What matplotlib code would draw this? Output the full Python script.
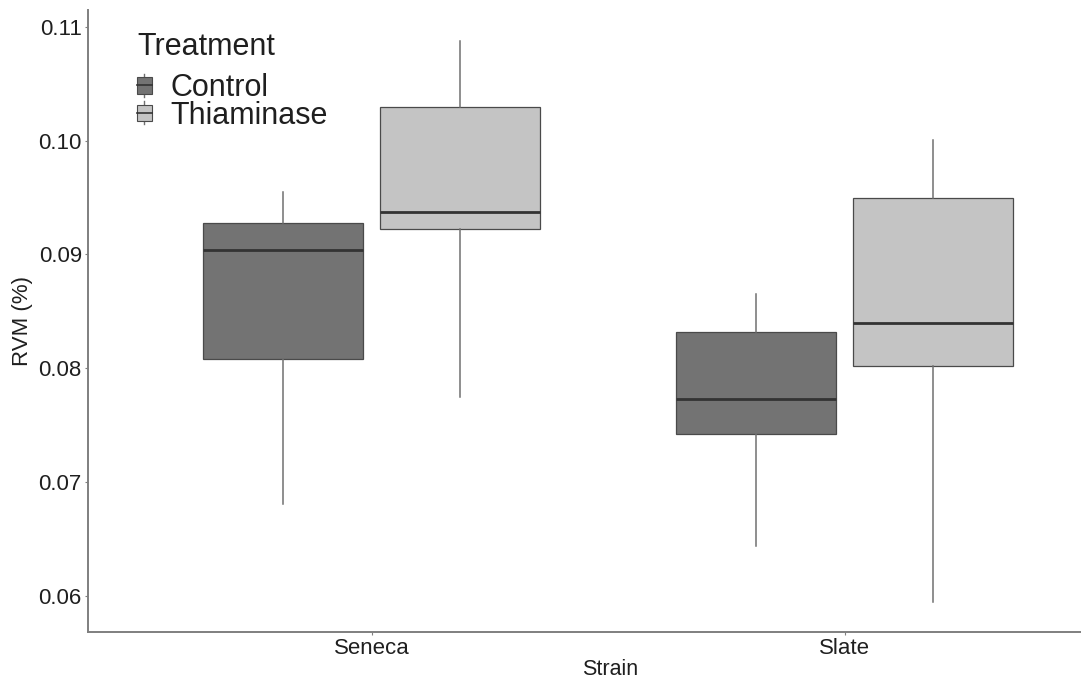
import matplotlib
matplotlib.use("Agg")
import matplotlib.pyplot as plt
from matplotlib.patches import Rectangle, Patch
from matplotlib.lines import Line2D
from matplotlib.legend_handler import HandlerBase

plt.rcParams["font.family"] = ["Liberation Sans", "DejaVu Sans"]

strains = ["Seneca", "Slate"]
treatments = ["Control", "Thiaminase"]

# five-number summaries, one value per strain
control_lo = [0.0681, 0.0644]
control_q1 = [0.0808, 0.0742]
control_med = [0.0904, 0.0773]
control_q3 = [0.0928, 0.0832]
control_hi = [0.0955, 0.0865]

thiam_lo = [0.0775, 0.0594]
thiam_q1 = [0.0922, 0.0802]
thiam_med = [0.0937, 0.0840]
thiam_q3 = [0.1030, 0.0950]
thiam_hi = [0.1088, 0.1001]

fills = {"Control": "#737373", "Thiaminase": "#c4c4c4"}
edge = "#4a4a4a"
whisk = "#707070"
axis_grey = "#7f7f7f"
text_col = "#1f1f1f"

summaries = {
    "Control": (control_lo, control_q1, control_med, control_q3, control_hi),
    "Thiaminase": (thiam_lo, thiam_q1, thiam_med, thiam_q3, thiam_hi),
}
offsets = {"Control": -0.1875, "Thiaminase": 0.1875}

fig = plt.figure(figsize=(10.81, 6.8), dpi=100)
ax = fig.add_axes([88 / 1081, 48 / 680, 1 - 88 / 1081, 622 / 680])

for trt in treatments:
    lo, q1, med, q3, hi = summaries[trt]
    stats = []
    for i in range(len(strains)):
        stats.append({"whislo": lo[i], "q1": q1[i], "med": med[i],
                      "q3": q3[i], "whishi": hi[i], "fliers": []})
    pos = [i + 1 + offsets[trt] for i in range(len(strains))]
    ax.bxp(stats, positions=pos, widths=0.338, patch_artist=True,
           showcaps=False, showfliers=False,
           boxprops=dict(facecolor=fills[trt], edgecolor=edge, linewidth=0.9),
           medianprops=dict(color="#333333", linewidth=2.0),
           whiskerprops=dict(color=whisk, linewidth=1.1),
           manage_ticks=False, zorder=2)

# panel runs past the right edge of the figure (x limit 2.6 in full)
ax.set_xlim(0.4, 2.5)
ax.set_ylim(0.0568, 0.1115)
ax.set_xticks([1, 2])
ax.set_xticklabels(strains)
ax.set_yticks([0.06, 0.07, 0.08, 0.09, 0.10, 0.11])
ax.set_yticklabels(["0.06", "0.07", "0.08", "0.09", "0.10", "0.11"])

for side in ["top", "right"]:
    ax.spines[side].set_visible(False)
for side in ["left", "bottom"]:
    ax.spines[side].set_color(axis_grey)
    ax.spines[side].set_linewidth(1.4)
ax.tick_params(axis="both", length=2.5, width=0.8, color=axis_grey,
               labelsize=16, labelcolor=text_col, pad=2)

ax.set_xlabel("Strain", fontsize=15.5, color=text_col, labelpad=0,
              x=(610 - 88) / (1081 - 88))
ax.set_ylabel("RVM (%)", fontsize=16, color=text_col, labelpad=4)


class BoxKeyHandler(HandlerBase):
    # small boxplot glyph for the legend keys
    def create_artists(self, legend, orig_handle, xdescent, ydescent,
                       width, height, fontsize, trans):
        x0, y0 = -xdescent, -ydescent
        cx = x0 + width / 2
        cy = y0 + height / 2
        bw, bh = 10.8, 12.0
        stem = Line2D([cx, cx], [cy - bh / 2 - 2.2, cy + bh / 2 + 2.2],
                      color=whisk, lw=1.0, transform=trans)
        box = Rectangle((cx - bw / 2, cy - bh / 2), bw, bh,
                        facecolor=orig_handle.get_facecolor(),
                        edgecolor=edge, lw=0.8, transform=trans)
        mid = Line2D([cx - bw / 2, cx + bw / 2], [cy, cy],
                     color="#333333", lw=1.2, transform=trans)
        return [stem, box, mid]


handles = [Patch(facecolor=fills[t]) for t in treatments]
leg = ax.legend(handles, treatments, handler_map={Patch: BoxKeyHandler()},
                loc="upper left", bbox_to_anchor=(137 / 1081, 1 - 73 / 680),
                bbox_transform=fig.transFigure, frameon=False,
                fontsize=22, handlelength=0.49, handletextpad=0.59,
                labelspacing=-0.08, borderpad=0, borderaxespad=0)
for t in leg.get_texts():
    t.set_color(text_col)
fig.text(137 / 1081, 1 - 55 / 680, "Treatment", fontsize=22,
         color=text_col, ha="left", va="baseline")

fig.savefig("out.png", dpi=100)
